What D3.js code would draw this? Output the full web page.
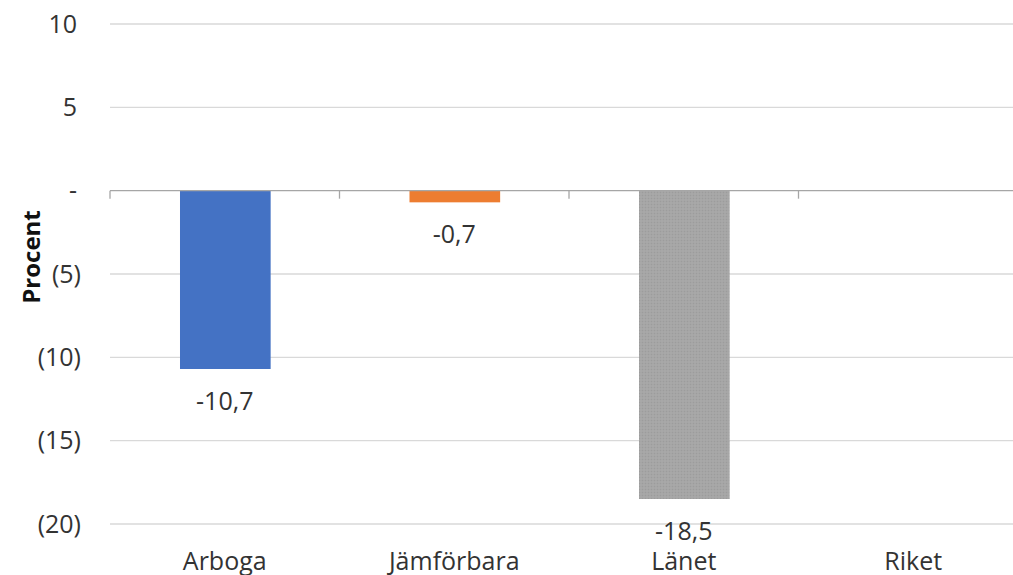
<!DOCTYPE html>
<html><head><meta charset="utf-8">
<script src="https://cdn.jsdelivr.net/npm/d3@7"></script>
<style>body{margin:0;background:#fff}svg{display:block}text{font-family:"Open Sans","Noto Sans",sans-serif}</style>
</head><body><svg id="c" width="1013" height="575"></svg>
<script>
const categories = ["Arboga", "Jämförbara", "Länet", "Riket"];
const values = [-10.7, -0.7, -18.5, null];
const colors = ["#4472C4", "#ED7D31", "#A5A5A5", "#FFC000"];
const yTicks = [10, 5, 0, -5, -10, -15, -20];

const svg = d3.select("#c");
const m = {left: 110, right: 1028, top: 24, bottom: 524};
const x = d3.scaleBand().domain(categories).range([m.left, m.right]).paddingInner(0).paddingOuter(0);
const y = d3.scaleLinear().domain([-20, 10]).range([m.bottom, m.top]);
const fmtTick = v => v === 0 ? "-" : (v < 0 ? "(" + Math.abs(v) + ")" : String(v));
const fmtVal = v => d3.format(".1f")(v).replace(".", ",").replace("−", "-");

// pattern for gray bar
const defs = svg.append("defs");
const pat = defs.append("pattern").attr("id", "gp").attr("width", 3).attr("height", 3).attr("patternUnits", "userSpaceOnUse");
pat.append("rect").attr("width", 3).attr("height", 3).attr("fill", "#A5A5A5");
pat.append("rect").attr("x", 0).attr("y", 0).attr("width", 1).attr("height", 1).attr("fill", "#9c9c9c");
pat.append("rect").attr("x", 1.5).attr("y", 1.5).attr("width", 1).attr("height", 1).attr("fill", "#b0b0b0");

// gridlines
svg.append("g").selectAll("line").data(yTicks.filter(d => d !== 0)).join("line")
  .attr("x1", m.left).attr("x2", m.right).attr("y1", d => y(d)).attr("y2", d => y(d))
  .attr("stroke", "#d9d9d9").attr("stroke-width", 1.3);

// y axis labels
const yAxis = d3.axisLeft(y).tickValues(yTicks).tickFormat(fmtTick).tickSize(0).tickPadding(0);
const ga = svg.append("g").attr("transform", `translate(81,0)`).call(yAxis);
ga.select(".domain").remove();
ga.selectAll("text").attr("font-size", 25).attr("fill", "#333").attr("font-family", '"Open Sans",sans-serif')
  .attr("x", d => d >= 0 ? -4 : 0);

// bars
svg.append("g").selectAll("rect").data(categories.map((c, i) => ({c, v: values[i], i}))).join("rect")
  .filter(d => d.v != null)
  .attr("x", d => x(d.c) + x.bandwidth() * 0.305)
  .attr("width", x.bandwidth() * 0.395)
  .attr("y", d => y(Math.max(0, d.v)))
  .attr("height", d => Math.abs(y(d.v) - y(0)))
  .attr("fill", d => d.i === 2 ? "url(#gp)" : colors[d.i]);

// zero line with ticks
svg.append("line").attr("x1", m.left).attr("x2", m.right).attr("y1", y(0)).attr("y2", y(0))
  .attr("stroke", "#a6a6a6").attr("stroke-width", 1.3);
const bounds = categories.map(c => x(c));
svg.append("g").selectAll("line").data(bounds).join("line")
  .attr("x1", d => d).attr("x2", d => d).attr("y1", y(0)).attr("y2", y(0) + 8)
  .attr("stroke", "#a6a6a6").attr("stroke-width", 1.3);

// value labels
svg.append("g").selectAll("text").data(categories.map((c, i) => ({c, v: values[i]})).filter(d => d.v != null)).join("text")
  .attr("x", d => x(d.c) + x.bandwidth() / 2)
  .attr("y", d => y(d.v) + 41)
  .attr("text-anchor", "middle").attr("font-size", 25).attr("fill", "#333")
  .text(d => fmtVal(d.v));

// category labels
svg.append("g").selectAll("text").data(categories).join("text")
  .attr("x", d => x(d) + x.bandwidth() / 2)
  .attr("y", 570)
  .attr("text-anchor", "middle").attr("font-size", 25).attr("fill", "#333")
  .text(d => d);

// y title
svg.append("text").attr("transform", "translate(40,257) rotate(-90)")
  .attr("text-anchor", "middle").attr("font-size", 24).attr("font-weight", "bold").attr("fill", "#111")
  .text("Procent");
</script></body></html>
